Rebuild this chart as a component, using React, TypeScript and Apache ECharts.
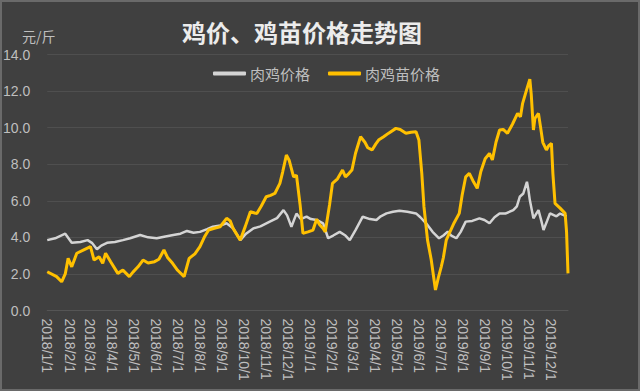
import React, { useEffect, useRef } from "react";
import * as echarts from "echarts";

const titleText = "鸡价、鸡苗价格走势图";
const unitText = "元/斤";
const seriesNames = ["肉鸡价格", "肉鸡苗价格"];
const yTicks = [0, 2, 4, 6, 8, 10, 12, 14];
const axisStart = "2018/1/1";
const axisEnd = "2019/12/25";

const meatDates = [
  "2018/1/1", "2018/1/12", "2018/1/26", "2018/2/4", "2018/2/16", "2018/2/26", "2018/3/4", "2018/3/11",
  "2018/3/17", "2018/3/25", "2018/4/5", "2018/4/16", "2018/4/26", "2018/5/10", "2018/5/21", "2018/6/2",
  "2018/6/14", "2018/6/25", "2018/7/5", "2018/7/14", "2018/7/23", "2018/8/1", "2018/8/11", "2018/8/19",
  "2018/8/29", "2018/9/7", "2018/9/16", "2018/9/26", "2018/10/4", "2018/10/14", "2018/10/24", "2018/11/6",
  "2018/11/16", "2018/11/25", "2018/11/30", "2018/12/6", "2018/12/13", "2018/12/19", "2018/12/27", "2019/1/2",
  "2019/1/10", "2019/1/19", "2019/1/26", "2019/2/2", "2019/2/11", "2019/2/19", "2019/2/25", "2019/3/5",
  "2019/3/15", "2019/3/25", "2019/4/3", "2019/4/9", "2019/4/17", "2019/4/26", "2019/5/5", "2019/5/16",
  "2019/5/28", "2019/6/3", "2019/6/11", "2019/6/20", "2019/6/29", "2019/7/5", "2019/7/11", "2019/7/16",
  "2019/7/23", "2019/7/29", "2019/8/5", "2019/8/14", "2019/8/24", "2019/8/31", "2019/9/7", "2019/9/14",
  "2019/9/21", "2019/9/29", "2019/10/10", "2019/10/15", "2019/10/19", "2019/10/24", "2019/10/29", "2019/10/31",
  "2019/11/2", "2019/11/7", "2019/11/11", "2019/11/14", "2019/11/18", "2019/11/21", "2019/11/26", "2019/11/30",
  "2019/12/9", "2019/12/14", "2019/12/19", "2019/12/23",
];
const meatPrices = [
  3.85, 3.95, 4.2, 3.7, 3.75, 3.85, 3.7, 3.35,
  3.55, 3.7, 3.75, 3.85, 3.95, 4.13, 4.0, 3.95,
  4.05, 4.13, 4.2, 4.35, 4.25, 4.3, 4.45, 4.58,
  4.65, 4.77, 4.5, 3.85, 4.2, 4.49, 4.6, 4.86,
  5.05, 5.49, 5.2, 4.58, 5.3, 5.0, 5.13, 5.0,
  4.95, 4.77, 3.95, 4.1, 4.3, 4.1, 3.85, 4.4,
  5.13, 5.0, 4.95, 5.15, 5.31, 5.4, 5.46, 5.4,
  5.31, 5.1, 4.77, 4.3, 3.95, 4.1, 4.31, 4.1,
  3.95, 4.3, 4.86, 4.9, 5.04, 4.95, 4.77, 5.1,
  5.31, 5.3, 5.49, 5.7, 6.22, 6.4, 7.04, 6.6,
  6.04, 5.04, 5.3, 5.49, 4.9, 4.4, 4.9, 5.31,
  5.15, 5.3, 5.22, 5.15,
];

const chickDates = [
  "2018/1/1", "2018/1/14", "2018/1/21", "2018/1/26", "2018/1/30", "2018/2/4", "2018/2/11", "2018/2/20",
  "2018/3/2", "2018/3/7", "2018/3/14", "2018/3/19", "2018/3/23", "2018/3/30", "2018/4/9", "2018/4/16",
  "2018/4/25", "2018/4/30", "2018/5/7", "2018/5/14", "2018/5/21", "2018/5/30", "2018/6/5", "2018/6/12",
  "2018/6/17", "2018/6/24", "2018/7/1", "2018/7/10", "2018/7/17", "2018/7/25", "2018/8/1", "2018/8/7",
  "2018/8/13", "2018/8/21", "2018/8/29", "2018/9/7", "2018/9/12", "2018/9/16", "2018/9/26", "2018/10/3",
  "2018/10/10", "2018/10/19", "2018/10/25", "2018/11/1", "2018/11/7", "2018/11/13", "2018/11/20", "2018/11/24",
  "2018/11/29", "2018/12/3", "2018/12/9", "2018/12/13", "2018/12/18", "2018/12/22", "2018/12/29", "2019/1/5",
  "2019/1/10", "2019/1/14", "2019/1/19", "2019/1/22", "2019/1/28", "2019/2/1", "2019/2/8", "2019/2/15",
  "2019/2/19", "2019/2/24", "2019/2/28", "2019/3/5", "2019/3/12", "2019/3/18", "2019/3/22", "2019/3/28",
  "2019/4/2", "2019/4/6", "2019/4/13", "2019/4/20", "2019/4/30", "2019/5/6", "2019/5/14", "2019/5/21",
  "2019/5/28", "2019/6/1", "2019/6/5", "2019/6/8", "2019/6/13", "2019/6/18", "2019/6/24", "2019/6/28",
  "2019/7/2", "2019/7/5", "2019/7/9", "2019/7/13", "2019/7/20", "2019/7/27", "2019/7/31", "2019/8/5",
  "2019/8/10", "2019/8/15", "2019/8/21", "2019/8/26", "2019/9/1", "2019/9/7", "2019/9/11", "2019/9/16",
  "2019/9/21", "2019/9/26", "2019/10/2", "2019/10/9", "2019/10/16", "2019/10/20", "2019/10/23", "2019/10/28",
  "2019/11/2", "2019/11/4", "2019/11/7", "2019/11/9", "2019/11/14", "2019/11/17", "2019/11/20", "2019/11/25",
  "2019/11/28", "2019/12/2", "2019/12/4", "2019/12/7", "2019/12/14", "2019/12/21", "2019/12/23", "2019/12/25",
];
const chickPrices = [
  2.12, 1.85, 1.57, 2.0, 2.85, 2.39, 3.13, 3.3,
  3.49, 2.76, 2.94, 2.58, 3.13, 2.67, 2.03, 2.21,
  1.85, 2.1, 2.39, 2.76, 2.6, 2.67, 2.8, 3.31,
  2.9, 2.58, 2.2, 1.85, 2.85, 3.1, 3.49, 4.0,
  4.4, 4.5, 4.58, 5.04, 4.9, 4.49, 3.85, 4.6,
  5.4, 5.3, 5.7, 6.22, 6.3, 6.4, 6.95, 7.6,
  8.5, 8.2, 7.31, 7.4, 5.8, 4.22, 4.3, 4.4,
  4.99, 4.7, 4.49, 4.3, 5.8, 6.95, 7.2, 7.68,
  7.31, 7.5, 7.68, 8.6, 9.5, 9.2, 8.9, 8.78,
  9.1, 9.32, 9.5, 9.7, 9.96, 9.9, 9.69, 9.75,
  9.78, 9.32, 7.5, 5.68, 3.85, 2.8, 1.12, 1.8,
  2.39, 2.9, 3.85, 4.2, 4.8, 5.31, 6.3, 7.31,
  7.5, 7.1, 6.68, 7.6, 8.3, 8.59, 8.23, 9.2,
  9.87, 9.9, 9.69, 10.2, 10.78, 10.6, 11.33, 12.0,
  12.65, 11.8, 9.87, 10.5, 10.78, 10.0, 9.2, 8.78,
  9.0, 9.14, 7.5, 5.86, 5.6, 5.31, 4.3, 2.03,
];

function buildDays(start: string, end: string): string[] {
  const [sy, sm, sd] = start.split("/").map(Number);
  const [ey, em, ed] = end.split("/").map(Number);
  const d = new Date(Date.UTC(sy, sm - 1, sd));
  const last = Date.UTC(ey, em - 1, ed);
  const out: string[] = [];
  while (d.getTime() <= last) {
    out.push(`${d.getUTCFullYear()}/${d.getUTCMonth() + 1}/${d.getUTCDate()}`);
    d.setUTCDate(d.getUTCDate() + 1);
  }
  return out;
}

export default function App() {
  const ref = useRef<HTMLDivElement>(null);
  useEffect(() => {
    if (!ref.current) return;
    const chart = echarts.init(ref.current, undefined, { renderer: "svg" });
    const days = buildDays(axisStart, axisEnd);
    const labelColor = "#bfbfbf";
    chart.setOption({
      animation: false,
      backgroundColor: "#404040",
      title: {
        text: titleText,
        left: 297,
        top: 14,
        textAlign: "center",
        textStyle: {
          color: "#ececec",
          fontSize: 24,
          fontWeight: "bold",
          fontFamily: "Noto Sans CJK SC",
        },
      },
      graphic: [
        {
          type: "rect",
          shape: { x: 1, y: 1, width: 638, height: 389 },
          style: { fill: "none", stroke: "#6a6a6a", lineWidth: 2 },
          silent: true,
        },
        {
          type: "text",
          left: 22,
          top: 29,
          style: {
            text: unitText,
            fill: labelColor,
            fontSize: 14,
            fontFamily: "Noto Sans CJK SC",
          },
        },
      ],
      legend: {
        left: 208,
        top: 61,
        itemGap: 18,
        itemWidth: 33,
        itemHeight: 4,
        icon: "roundRect",
        textStyle: {
          color: labelColor,
          fontSize: 15,
          fontFamily: "Noto Sans CJK SC",
          padding: [0, 0, 0, -1],
        },
        data: seriesNames,
      },
      grid: { left: 47, right: 72, top: 54.5, bottom: 80.5, containLabel: false },
      xAxis: {
        type: "category",
        data: days,
        boundaryGap: false,
        axisLine: { show: true, lineStyle: { color: "#555555", width: 1 } },
        axisTick: { show: false },
        splitLine: { show: false },
        axisLabel: {
          interval: (_i: number, v: string) => v.split("/")[2] === "1",
          rotate: -90,
          color: labelColor,
          fontSize: 14,
          fontFamily: "Liberation Sans",
          margin: 8,
        },
      },
      yAxis: {
        type: "value",
        min: yTicks[0],
        max: yTicks[yTicks.length - 1],
        interval: 2,
        axisLine: { show: false },
        axisTick: { show: false },
        splitLine: { lineStyle: { color: "#4f4f4f", width: 1 } },
        axisLabel: {
          formatter: (v: number) => v.toFixed(1),
          color: labelColor,
          fontSize: 14,
          fontFamily: "Liberation Sans",
          margin: 17,
        },
      },
      series: [
        {
          name: seriesNames[0],
          type: "line",
          data: meatDates.map((d, i) => [d, meatPrices[i]]),
          showSymbol: false,
          symbol: "none",
          lineStyle: { color: "#d4d4d4", width: 2.5 },
          itemStyle: { color: "#d4d4d4" },
          z: 2,
        },
        {
          name: seriesNames[1],
          type: "line",
          data: chickDates.map((d, i) => [d, chickPrices[i]]),
          showSymbol: false,
          symbol: "none",
          lineStyle: { color: "#FFC000", width: 3 },
          itemStyle: { color: "#FFC000" },
          z: 3,
        },
      ],
    });
    return () => chart.dispose();
  }, []);
  return (
    <div
      ref={ref}
      style={{ position: "fixed", left: 0, top: 0, width: 640, height: 391 }}
    />
  );
}
